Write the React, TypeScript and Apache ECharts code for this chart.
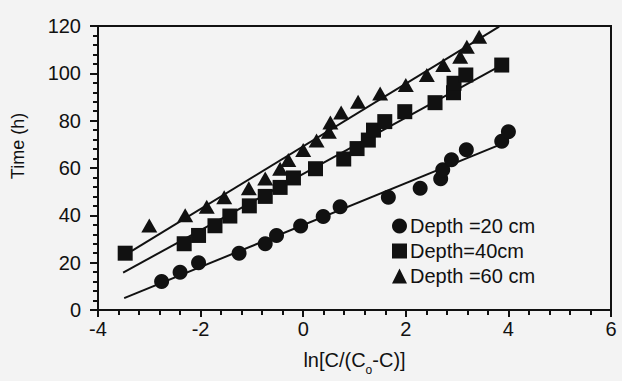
import React, { useEffect, useRef } from "react";
import * as echarts from "echarts";

const depth20: number[][] = [
  [-2.76, 12], [-2.4, 16], [-2.04, 20], [-1.25, 24], [-0.74, 28], [-0.52, 31.5],
  [-0.05, 35.5], [0.39, 39.5], [0.72, 43.6], [1.66, 47.6], [2.28, 51.4], [2.68, 55.5],
  [2.72, 59.3], [2.89, 63.5], [3.18, 67.7], [3.87, 71.3], [4.0, 75.3],
];
const depth40: number[][] = [
  [-3.47, 24], [-2.32, 28], [-2.04, 31.5], [-1.72, 35.6], [-1.43, 39.7], [-1.05, 44],
  [-0.74, 48], [-0.45, 51.8], [-0.19, 55.8], [0.24, 59.7], [0.79, 63.8], [1.05, 68.2],
  [1.27, 71.8], [1.37, 76], [1.59, 79.6], [1.98, 83.8], [2.57, 87.6], [2.93, 91.8],
  [2.94, 95.8], [3.17, 99.3], [3.87, 103.5],
];
const depth60: number[][] = [
  [-3.0, 35.7], [-2.3, 40], [-1.88, 43.6], [-1.54, 47.6], [-1.06, 51.4], [-0.74, 55.6],
  [-0.45, 59.7], [-0.29, 63.4], [0.0, 67.6], [0.26, 71.6], [0.5, 75.3], [0.53, 79.2],
  [0.74, 83.5], [1.07, 88], [1.5, 91.5], [2.0, 95.1], [2.41, 99.3], [2.73, 103.5],
  [3.06, 107], [3.19, 111.2], [3.43, 115.5],
];
const fit20: number[][] = [[-3.49, 5], [3.85, 70]];
const fit40: number[][] = [[-3.51, 15.8], [3.84, 103.1]];
const fit60: number[][] = [[-3.34, 25], [3.82, 119.7]];
const seriesNames = ["Depth =20 cm", "Depth=40cm", "Depth =60 cm"];

const FONT = "'Liberation Sans', Arial, sans-serif";
const INK = "#111";

export default function App() {
  const ref = useRef<HTMLDivElement>(null);
  useEffect(() => {
    if (!ref.current) return;
    const chart = echarts.init(ref.current, null, { renderer: "svg" });
    const lineSeries = (data: number[][]) => ({
      type: "line",
      data,
      showSymbol: false,
      symbol: "none",
      silent: true,
      lineStyle: { color: INK, width: 2 },
      z: 1,
    });
    const scatter = (name: string, data: number[][], symbol: string, size: number | number[]) => ({
      type: "scatter",
      name,
      data,
      symbol,
      symbolSize: size,
      itemStyle: { color: INK, opacity: 1 },
      z: 3,
    });
    chart.setOption({
      animation: false,
      backgroundColor: "#f3f3f3",
      textStyle: { fontFamily: FONT, color: INK },
      grid: {
        left: 98, right: 11, top: 26, bottom: 71,
        show: true, borderColor: INK, borderWidth: 2, backgroundColor: "transparent",
      },
      legend: {
        data: seriesNames,
        orient: "vertical",
        left: 392,
        top: 216,
        itemWidth: 15,
        itemHeight: 15,
        itemGap: 5,
        padding: 0,
        textStyle: { fontFamily: FONT, fontSize: 20, color: INK, padding: [0, 0, 0, -2] },
      },
      xAxis: {
        type: "value",
        min: -4,
        max: 6,
        interval: 2,
        name: "ln[C/(C{sub|o}-C)]",
        nameLocation: "middle",
        nameGap: 40,
        nameTextStyle: {
          fontFamily: FONT, fontSize: 20, color: INK,
          rich: { sub: { fontFamily: FONT, fontSize: 12, color: INK, verticalAlign: "bottom", padding: [0, 0, -6, 0] } },
        },
        axisLine: { onZero: false, lineStyle: { color: INK, width: 2 } },
        axisTick: { show: true, length: 7, lineStyle: { color: INK, width: 2 } },
        minorTick: { show: true, splitNumber: 5, length: 5, lineStyle: { color: INK, width: 2 } },
        splitLine: { show: false },
        axisLabel: { fontFamily: FONT, fontSize: 20, color: INK, margin: 9 },
      },
      yAxis: {
        type: "value",
        min: 0,
        max: 120,
        interval: 20,
        axisLine: { show: true, onZero: false, lineStyle: { color: INK, width: 2 } },
        axisTick: { show: true, length: 8, lineStyle: { color: INK, width: 2 } },
        minorTick: { show: true, splitNumber: 5, length: 5, lineStyle: { color: INK, width: 2 } },
        splitLine: { show: false },
        axisLabel: { fontFamily: FONT, fontSize: 20, color: INK, margin: 17 },
      },
      graphic: [
        {
          type: "text",
          x: 18,
          y: 146,
          rotation: Math.PI / 2,
          style: {
            text: "Time (h)",
            fontFamily: FONT,
            fontSize: 18,
            fill: INK,
            align: "center",
            verticalAlign: "middle",
          },
        },
      ],
      series: [
        lineSeries(fit20),
        lineSeries(fit40),
        lineSeries(fit60),
        scatter(seriesNames[0], depth20, "circle", 15),
        scatter(seriesNames[1], depth40, "rect", 15),
        scatter(seriesNames[2], depth60, "triangle", [16, 14]),
      ],
    });
    return () => chart.dispose();
  }, []);
  return <div ref={ref} style={{ position: "fixed", left: 0, top: 0, width: 622, height: 381 }} />;
}
